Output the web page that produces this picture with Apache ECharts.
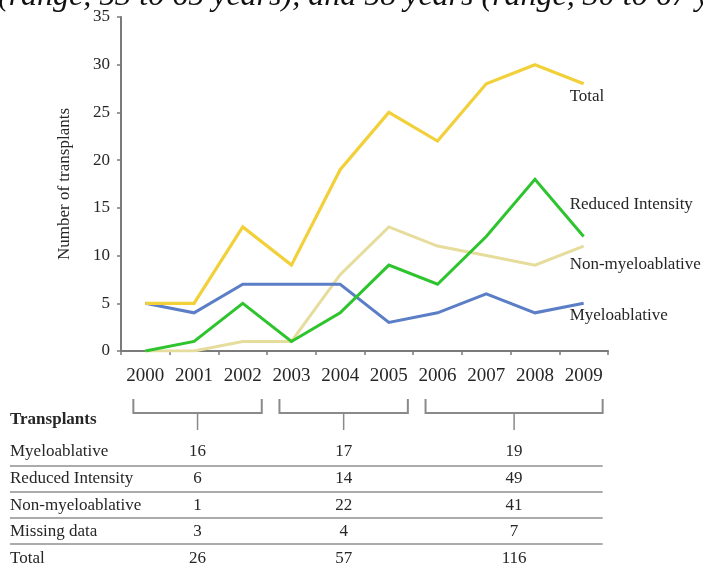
<!DOCTYPE html>
<html>
<head>
<meta charset="utf-8">
<script src="https://cdn.jsdelivr.net/npm/echarts@6/dist/echarts.min.js"></script>
<style>
  html, body { margin: 0; padding: 0; background: #fff; }
  #chart { width: 703px; height: 572px; }
</style>
</head>
<body>
<div id="chart"></div>
<script>
// Transplants per year by conditioning regimen
const years = ['2000', '2001', '2002', '2003', '2004', '2005', '2006', '2007', '2008', '2009'];
const total = [5, 5, 13, 9, 19, 25, 22, 28, 30, 28];
const reducedIntensity = [0, 1, 5, 1, 4, 9, 7, 12, 18, 12];
const nonMyeloablative = [0, 0, 1, 1, 8, 13, 11, 10, 9, 11];
const myeloablative = [5, 4, 7, 7, 7, 3, 4, 6, 4, 5];

// value axis
const yMin = 0;
const yMax = 35;
const yStep = 5;

// period summary table
const periods = [['2000', '2002'], ['2003', '2005'], ['2006', '2009']];
const tableTitle = 'Transplants';
const tableRowLabels = ['Myeloablative', 'Reduced Intensity', 'Non-myeloablative', 'Missing data', 'Total'];
const periodMyeloablative = [16, 17, 19];
const periodReducedIntensity = [6, 14, 49];
const periodNonMyeloablative = [1, 22, 41];
const periodMissing = [3, 4, 7];
const periodTotal = [26, 57, 116];
const tableValues = [periodMyeloablative, periodReducedIntensity, periodNonMyeloablative, periodMissing, periodTotal];

const headerText = '(range, 53 to 65 years), and 58 years (range, 30 to 67 years)';

const SERIF = '"Liberation Serif", "DejaVu Serif", serif';
const TEXT = '#262626';
const AXIS = '#7a7a7a';

const chart = echarts.init(document.getElementById('chart'), null, { renderer: 'canvas' });

function lineSeries(name, data, color, width, offset, z) {
  return {
    name: name,
    type: 'line',
    data: data,
    symbol: 'none',
    z: z,
    lineStyle: { color: color, width: width, join: 'miter' },
    endLabel: {
      show: true,
      formatter: name,
      distance: 0,
      offset: offset,
      align: 'left',
      fontFamily: SERIF,
      fontSize: 17,
      color: TEXT
    }
  };
}

chart.setOption({
  animation: false,
  backgroundColor: '#fff',
  grid: { left: 121, right: 95, top: 17, bottom: 221, containLabel: false },
  xAxis: {
    type: 'category',
    data: years,
    boundaryGap: true,
    axisLine: { lineStyle: { color: AXIS, width: 2 } },
    axisTick: { show: true, length: 4, lineStyle: { color: AXIS, width: 1.5 } },
    axisLabel: { interval: 0, hideOverlap: false, fontFamily: SERIF, fontSize: 19, color: TEXT, margin: 16 }
  },
  yAxis: {
    type: 'value',
    min: yMin,
    max: yMax,
    interval: yStep,
    name: 'Number of transplants',
    nameLocation: 'middle',
    nameRotate: 90,
    nameGap: 48,
    nameTextStyle: { fontFamily: SERIF, fontSize: 17, color: TEXT },
    splitLine: { show: false },
    axisLine: { show: true, lineStyle: { color: AXIS, width: 2 } },
    axisTick: { show: true, length: 4, lineStyle: { color: AXIS, width: 1.5 } },
    axisLabel: { fontFamily: SERIF, fontSize: 17, color: TEXT, margin: 11 }
  },
  series: [
    lineSeries('Non-myeloablative', nonMyeloablative, '#e6dc9c', 3, [-14, 19], 2),
    lineSeries('Myeloablative', myeloablative, '#5b7ec6', 3, [-14, 12], 3),
    lineSeries('Reduced Intensity', reducedIntensity, '#2ec42e', 3, [-14, -32], 4),
    lineSeries('Total', total, '#f2d03a', 3.2, [-14, 13], 5)
  ]
});

// Period brackets and summary table, placed against the category axis
const axisY = chart.convertToPixel({ yAxisIndex: 0 }, 0);
const bracketTop = axisY + 48;
const bracketBottom = axisY + 62;
const stemBottom = axisY + 79;
const lineColor = '#8a8a8a';
const graphics = [];

const centers = periods.map(function (p) {
  const x0 = chart.convertToPixel({ xAxisIndex: 0 }, p[0]) - 12;
  const x1 = chart.convertToPixel({ xAxisIndex: 0 }, p[1]) + 19;
  graphics.push({
    type: 'polyline',
    shape: { points: [[x0, bracketTop], [x0, bracketBottom], [x1, bracketBottom], [x1, bracketTop]] },
    style: { stroke: lineColor, lineWidth: 2, fill: null }
  });
  const cx = (x0 + x1) / 2;
  graphics.push({
    type: 'line',
    shape: { x1: cx, y1: bracketBottom, x2: cx, y2: stemBottom },
    style: { stroke: lineColor, lineWidth: 1.5 }
  });
  return { cx: cx, x1: x1 };
});

graphics.push({
  type: 'text',
  x: 10, y: 420,
  style: { text: tableTitle, fontFamily: SERIF, fontSize: 17, fontWeight: 'bold', fill: TEXT, verticalAlign: 'middle' }
});

const rowY = [452, 479, 506, 532, 559];
const ruleY = [466, 492, 518, 544];
const tableRight = centers[centers.length - 1].x1;
tableRowLabels.forEach(function (label, i) {
  graphics.push({
    type: 'text',
    x: 10, y: rowY[i],
    style: { text: label, fontFamily: SERIF, fontSize: 17, fill: TEXT, verticalAlign: 'middle' }
  });
  tableValues[i].forEach(function (v, j) {
    graphics.push({
      type: 'text',
      x: centers[j].cx, y: rowY[i],
      style: { text: String(v), fontFamily: SERIF, fontSize: 17, fill: TEXT, align: 'center', verticalAlign: 'middle' }
    });
  });
  if (i < ruleY.length) {
    graphics.push({
      type: 'line',
      shape: { x1: 10, y1: ruleY[i], x2: tableRight, y2: ruleY[i] },
      style: { stroke: '#8f8f8f', lineWidth: 1.5 }
    });
  }
});

// running text above the figure, cut by the top edge
graphics.push({
  type: 'text',
  x: -2, y: 13,
  style: { text: headerText, fontFamily: SERIF, fontSize: 32, fontStyle: 'italic', fill: '#111', verticalAlign: 'bottom' }
});

chart.setOption({ graphic: graphics });
</script>
</body>
</html>
